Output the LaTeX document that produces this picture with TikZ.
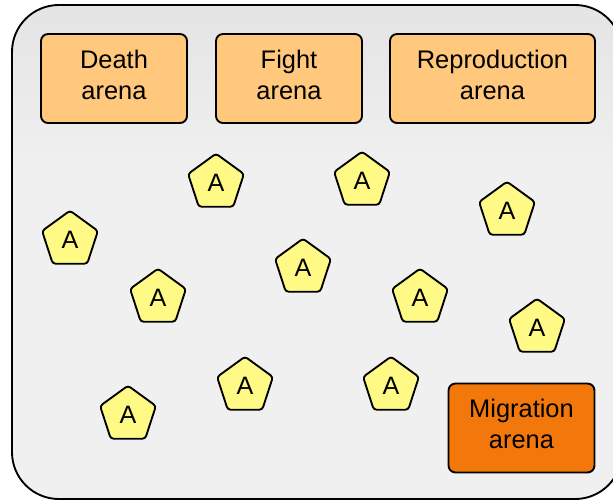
\documentclass[tikz,border=0pt]{standalone}
\usepackage{fontspec}
\setmainfont{Liberation Sans}
\usepackage{tikz}
\usetikzlibrary{shapes.geometric, positioning}
\definecolor{mFrameTop}{HTML}{E4E4E4}
\definecolor{mFrameBottom}{HTML}{F0F0F0}
\definecolor{mArenaLight}{HTML}{FFC87C}
\definecolor{mArenaDark}{HTML}{F2780C}
\definecolor{mAgent}{HTML}{FFFA85}
\pgfdeclareverticalshading{frameshade}{100bp}{color(0bp)=(mFrameBottom);
  color(25bp)=(mFrameBottom); color(58bp)=(mFrameBottom);
  color(75bp)=(mFrameTop); color(100bp)=(mFrameTop)}
\tikzset{
  arena/.style={draw, line width=1.6pt, rounded corners=6pt, fill=mArenaLight,
    minimum width=4.38cm, minimum height=2.67cm, align=center, text depth=0.24cm,
    font=\fontsize{21.7}{26.4}\selectfont},
  agent/.style={draw, line width=1.6pt, rounded corners=2.5pt, fill=mAgent,
    regular polygon, regular polygon sides=5, minimum size=1.76cm, inner sep=0pt,
    font=\fontsize{21.5}{24}\selectfont}
}

\begin{document}
\begin{tikzpicture}[x=0.03cm, y=-0.03cm]
  \useasboundingbox (0,0) rectangle (613,501);
  \clip (0,0) rectangle (613,501);

  % Frame of the world
  \draw[line width=1.6pt, rounded corners=40, shading=frameshade]
    (12,5) rectangle (622,499);

  % Arenas
  \node[arena] (death) at (114,78.5) {Death\\arena};
  \node[arena] (fight) at (289,78.5) {Fight\\arena};
  \node[arena, minimum width=6.15cm] (repro) at (492.5,78.5) {Reproduction\\arena};
  \node[arena, fill=mArenaDark] (migration) at (521.5,428) {Migration\\arena};

  % Agents
  \node[agent] (a1) at (216,183) {A};
  \node[agent] (a2) at (362,181) {A};
  \node[agent] (a3) at (507,211) {A};
  \node[agent] (a4) at (70,240) {A};
  \node[agent] (a5) at (303,268) {A};
  \node[agent] (a6) at (158,298) {A};
  \node[agent] (a7) at (420,298) {A};
  \node[agent] (a8) at (537,328) {A};
  \node[agent] (a9) at (245,386) {A};
  \node[agent] (a10) at (391,386) {A};
  \node[agent] (a11) at (128,415) {A};
\end{tikzpicture}
\end{document}
